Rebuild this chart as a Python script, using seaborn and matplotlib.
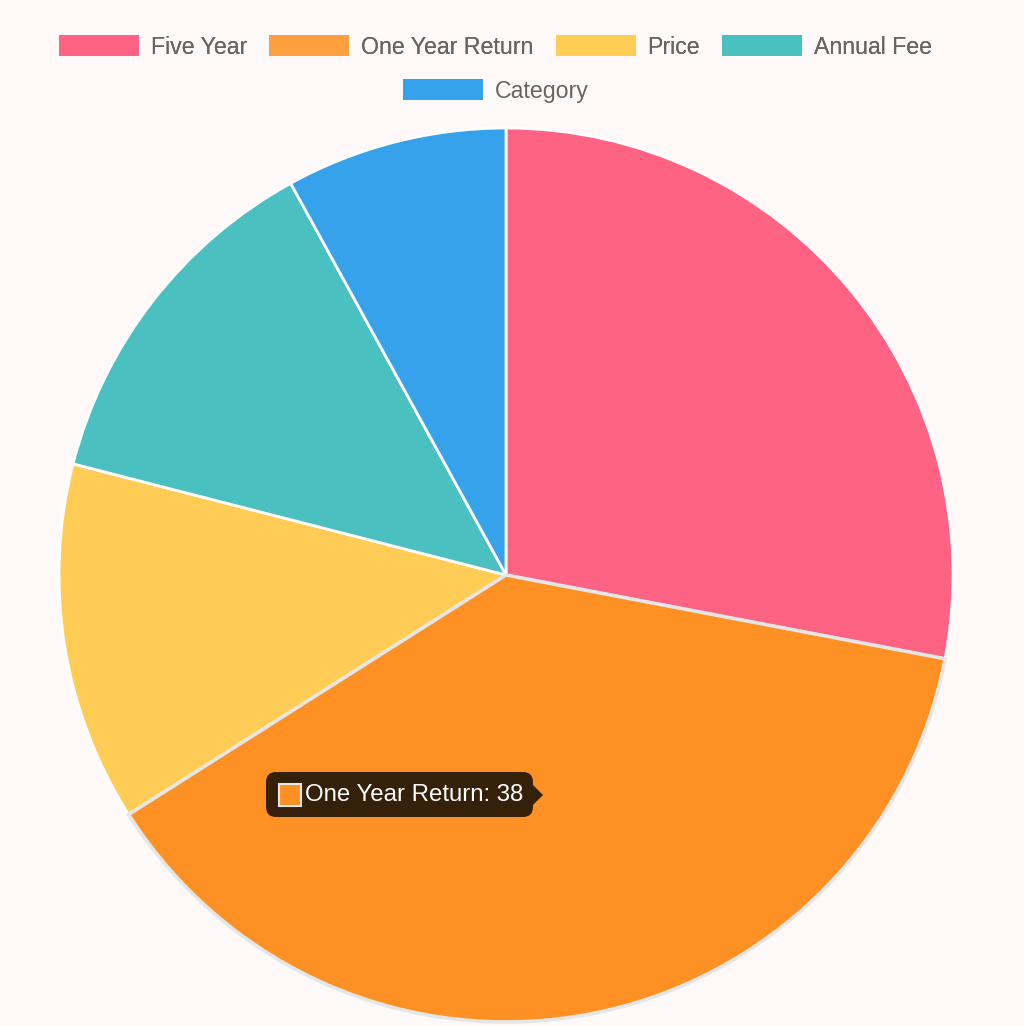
"""
Pie chart - fund metrics
"""

import matplotlib
matplotlib.use("Agg")
import matplotlib.pyplot as plt
import seaborn as sns
from matplotlib.patches import Patch, Rectangle, FancyBboxPatch, Polygon

# data
labels = ["Five Year", "One Year Return", "Price", "Annual Fee", "Category"]
values = [28, 38, 13, 13, 8]
hovered = 1  # slice under the tooltip

# colours (chart.js defaults, hovered slice a bit darker)
legend_colors = ["#ff6384", "#ff9f40", "#ffcd56", "#4bc0c0", "#36a2eb"]
slice_colors = ["#ff6384", "#ff9124", "#ffcd56", "#4bc0c0", "#36a2eb"]
bg = "#fffaf9"

sns.set_theme(style="white")
plt.rcParams["font.family"] = ["Liberation Sans", "DejaVu Sans"]

fig = plt.figure(figsize=(10.24, 10.26), dpi=100, facecolor=bg)
ax = fig.add_axes([0, 0, 1, 1])
ax.set_facecolor(bg)

# pie, pixel coordinates (y up)
W, H = 1024, 1026
wedges, _ = ax.pie(values, colors=sns.color_palette(slice_colors), startangle=90,
                   counterclock=False, center=(506, H - 575), radius=447,
                   wedgeprops=dict(edgecolor="white", linewidth=2.0))
wedges[hovered].set_edgecolor("#e6e6e6")
wedges[hovered].set_linewidth(2.6)
wedges[hovered].set_zorder(3)

ax.set_xlim(0, W)
ax.set_ylim(0, H)
ax.set_aspect("equal")
ax.axis("off")

# legend: two centered rows like chart.js
fs = 16.7
handles = [Patch(facecolor=c, edgecolor="none") for c in legend_colors]
common = dict(loc="center", frameon=False, fontsize=fs, labelcolor="#666666",
              handlelength=3.45, handleheight=1.03, handletextpad=0.52,
              columnspacing=0.95, borderpad=0, borderaxespad=0)
leg1 = fig.legend(handles[:4], labels[:4], ncol=4,
                  bbox_to_anchor=(495.5 / W, 1 - 47 / H), **common)
fig.add_artist(leg1)
fig.legend(handles[4:], labels[4:], ncol=1,
           bbox_to_anchor=(495.5 / W, 1 - 91 / H), **common)

# tooltip
tip_col = "#35200a"
ax.add_patch(FancyBboxPatch((272, H - 811), 255, 33,
                            boxstyle="round,pad=6,rounding_size=10",
                            facecolor=tip_col, edgecolor="none", zorder=5))
ax.add_patch(Polygon([(533, H - 785), (543, H - 795), (533, H - 805)],
                     closed=True, facecolor=tip_col, edgecolor="none", zorder=5))
ax.add_patch(Rectangle((279, H - 806), 22, 22, facecolor=slice_colors[hovered],
                       edgecolor="#e6e6e6", linewidth=1.5, zorder=6))
ax.text(305, H - 795, f"{labels[hovered]}: {values[hovered]}", color="white",
        fontsize=17.3, va="center", ha="left", zorder=7)

fig.savefig("out.png", dpi=100, facecolor=bg)
